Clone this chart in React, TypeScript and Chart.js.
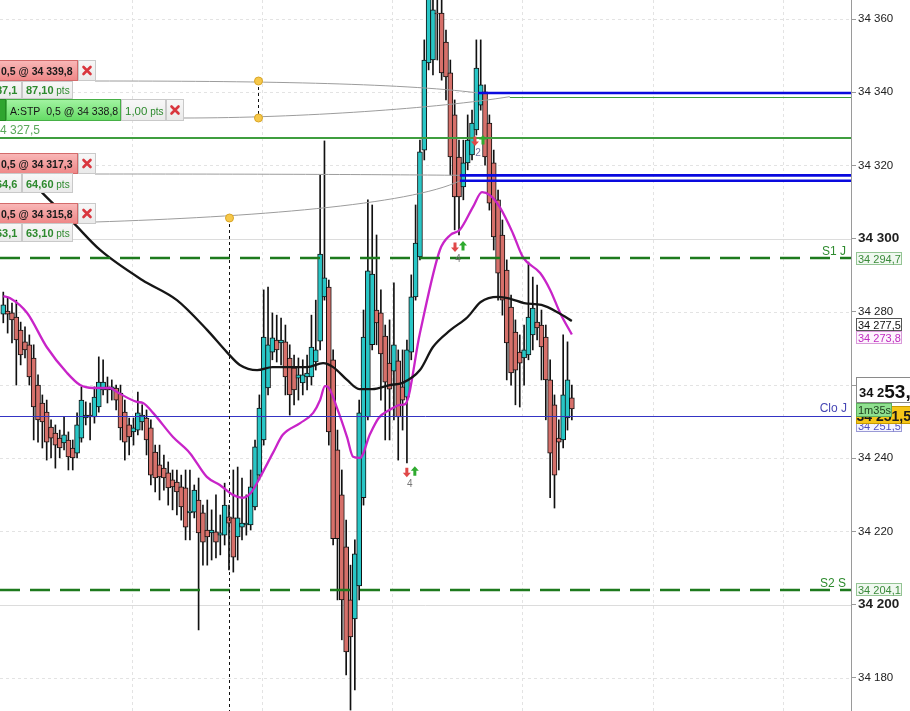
import React, { useEffect, useRef } from "react";
import { Chart, registerables } from "chart.js";

Chart.register(...registerables);

const FONT = '"Liberation Sans", Arial, Helvetica, sans-serif';

// ---- candle data (index 0..131) ----
const candleOpen = [
  34279.4, 34280.2, 34279.7, 34278.6, 34275.0, 34271.8, 34271.0, 34267.4, 34260.0, 34255.1,
  34252.6, 34248.5, 34246.9, 34245.5, 34244.2, 34245.0, 34242.8, 34241.4, 34245.5, 34251.0,
  34251.8, 34251.3, 34254.0, 34258.7, 34259.5, 34258.7, 34259.2, 34257.8, 34252.6, 34249.1,
  34247.2, 34247.7, 34249.9, 34251.0, 34248.3, 34241.7, 34238.2, 34237.3, 34236.0, 34234.1,
  34233.5, 34232.2, 34231.9, 34225.1, 34225.3, 34228.6, 34225.1, 34220.4, 34219.6, 34219.9,
  34219.0, 34219.0, 34224.0, 34223.7, 34218.5, 34221.2, 34221.8, 34221.8, 34226.7, 34235.4,
  34245.0, 34259.2, 34269.0, 34272.3, 34271.5, 34271.8, 34267.4, 34264.7, 34261.9, 34260.6,
  34262.2, 34262.2, 34266.3, 34272.0, 34284.1, 34286.8, 34266.9, 34242.3, 34230.0, 34215.8,
  34201.3, 34196.1, 34205.1, 34229.2, 34251.3, 34271.0, 34280.5, 34279.7, 34273.4, 34266.0,
  34263.8, 34266.6, 34259.5, 34256.7, 34269.0, 34284.1, 34295.0, 34324.2, 34348.0, 34348.8,
  34361.6, 34361.6, 34353.7, 34345.3, 34333.8, 34322.3, 34314.1, 34320.7, 34322.9, 34329.7,
  34336.5, 34340.1, 34331.6, 34320.7, 34310.6, 34301.0, 34291.4, 34281.3, 34274.5, 34269.0,
  34267.4, 34268.2, 34273.7, 34277.2, 34276.4, 34273.1, 34261.4, 34254.6, 34245.5, 34245.0,
  34251.0, 34256.5,
];
const candleClose = [
  34281.9, 34279.4, 34277.8, 34272.3, 34268.2, 34269.6, 34262.2, 34254.0, 34250.5, 34249.9,
  34244.4, 34245.5, 34243.6, 34242.8, 34246.4, 34240.4, 34240.1, 34249.1, 34255.9, 34251.8,
  34251.3, 34256.7, 34260.8, 34260.8, 34258.7, 34259.5, 34255.9, 34248.3, 34244.4, 34245.8,
  34248.3, 34252.4, 34251.8, 34245.0, 34235.4, 34234.6, 34234.9, 34234.6, 34231.9, 34232.2,
  34230.8, 34226.7, 34221.2, 34225.6, 34231.3, 34219.6, 34217.1, 34218.5, 34220.4, 34217.1,
  34219.6, 34227.2, 34222.3, 34213.0, 34223.7, 34222.3, 34222.3, 34232.2, 34243.1, 34253.7,
  34273.1, 34271.0, 34272.9, 34269.6, 34272.3, 34262.2, 34257.3, 34258.7, 34262.8, 34262.8,
  34263.3, 34270.4, 34269.6, 34295.8, 34289.3, 34247.2, 34218.0, 34218.0, 34201.3, 34187.1,
  34191.2, 34213.9, 34252.4, 34273.1, 34291.2, 34290.3, 34277.0, 34268.5, 34260.8, 34258.9,
  34271.0, 34251.3, 34255.9, 34269.6, 34284.1, 34298.8, 34323.7, 34348.8, 34366.6, 34362.5,
  34361.4, 34345.3, 34344.2, 34322.3, 34311.4, 34311.4, 34320.7, 34326.9, 34331.6, 34346.6,
  34342.0, 34322.3, 34309.7, 34300.5, 34290.6, 34283.2, 34271.5, 34263.3, 34264.1, 34266.0,
  34269.6, 34278.6, 34281.0, 34275.6, 34270.4, 34261.4, 34241.4, 34235.4, 34244.4, 34257.3,
  34261.4, 34253.5,
];
const candleHigh = [
  34285.4, 34283.8, 34282.4, 34283.2, 34277.2, 34275.9, 34273.7, 34271.0, 34262.8, 34257.3,
  34255.9, 34250.5, 34249.1, 34247.7, 34251.3, 34247.2, 34245.0, 34252.4, 34259.5, 34255.4,
  34255.1, 34259.5, 34267.7, 34266.9, 34262.2, 34261.4, 34260.0, 34260.0, 34255.9, 34251.0,
  34251.0, 34258.1, 34254.6, 34253.2, 34250.5, 34243.6, 34243.6, 34240.9, 34239.0, 34236.8,
  34236.8, 34235.4, 34236.8, 34236.8, 34232.7, 34234.6, 34227.2, 34228.6, 34225.9, 34230.0,
  34224.5, 34233.2, 34227.2, 34236.8, 34237.6, 34234.6, 34230.0, 34236.8, 34245.0, 34257.3,
  34286.0, 34286.8, 34279.7, 34279.1, 34278.3, 34276.4, 34271.0, 34268.2, 34267.4, 34266.9,
  34268.2, 34279.1, 34283.2, 34317.4, 34326.7, 34288.7, 34269.6, 34247.7, 34236.8, 34223.1,
  34210.8, 34217.7, 34255.9, 34280.5, 34310.6, 34309.2, 34301.0, 34286.0, 34276.4, 34277.8,
  34287.9, 34269.6, 34269.6, 34272.3, 34290.1, 34309.2, 34326.9, 34354.3, 34369.3, 34367.9,
  34366.6, 34365.2, 34357.0, 34348.8, 34337.9, 34326.9, 34326.9, 34333.8, 34335.1, 34354.3,
  34354.3, 34342.0, 34333.8, 34324.2, 34313.3, 34305.1, 34294.2, 34284.6, 34277.8, 34273.7,
  34276.4, 34293.6, 34289.5, 34287.3, 34280.5, 34276.4, 34266.9, 34257.3, 34250.5, 34273.7,
  34271.8, 34260.0,
];
const candleLow = [
  34277.0, 34274.2, 34271.5, 34260.0, 34265.5, 34267.4, 34260.0, 34245.0, 34244.4, 34242.8,
  34239.5, 34240.1, 34237.3, 34240.1, 34242.3, 34236.8, 34236.8, 34240.1, 34244.4, 34249.1,
  34245.0, 34249.6, 34252.6, 34257.3, 34255.1, 34255.9, 34253.2, 34245.0, 34239.5, 34240.9,
  34243.6, 34246.4, 34247.7, 34240.9, 34232.7, 34230.8, 34228.6, 34231.3, 34227.2, 34225.9,
  34224.5, 34223.1, 34217.7, 34217.7, 34223.7, 34193.1, 34210.8, 34210.8, 34212.2, 34212.8,
  34213.6, 34216.3, 34209.5, 34208.9, 34212.2, 34217.7, 34219.0, 34220.4, 34225.9, 34234.1,
  34243.6, 34257.3, 34266.9, 34266.3, 34265.5, 34257.3, 34251.8, 34254.6, 34255.9, 34257.3,
  34258.7, 34260.0, 34264.1, 34269.6, 34283.2, 34243.6, 34216.3, 34201.3, 34190.4, 34180.8,
  34171.2, 34176.7, 34201.3, 34227.2, 34250.5, 34269.6, 34271.0, 34255.9, 34245.0, 34245.0,
  34250.5, 34239.5, 34247.7, 34238.7, 34266.9, 34283.2, 34294.2, 34321.5, 34346.1, 34344.7,
  34348.8, 34343.3, 34337.9, 34317.4, 34302.4, 34301.0, 34310.6, 34318.8, 34321.5, 34328.3,
  34335.1, 34320.1, 34307.8, 34296.9, 34283.2, 34279.1, 34261.4, 34260.0, 34254.6, 34254.0,
  34260.0, 34266.9, 34269.6, 34272.3, 34261.4, 34250.5, 34229.2, 34226.4, 34236.8, 34242.8,
  34247.7, 34250.5,
];

// ---- moving averages (read at candle index positions) ----
const smaLongIdx = [3, 9, 16, 22.3, 32, 40, 47, 51.5, 54.5, 58.5, 62, 70, 73.7, 76, 79.2, 82, 85, 89, 92, 96, 99, 103, 107, 110, 114, 117, 120, 124, 128, 131];
const smaLongVal = [34320.7, 34312.5, 34304.5, 34296.9, 34288.7, 34283.2, 34275.0, 34269.0, 34265.5, 34264.1, 34264.9, 34264.9, 34266.0, 34264.9, 34261.4, 34258.9, 34258.9, 34260.0, 34260.6, 34264.1, 34270.4, 34275.0, 34278.6, 34282.7, 34284.1, 34283.5, 34282.4, 34281.9, 34279.7, 34277.5];
const smaShortIdx = [0, 1.5, 5.5, 10, 14.7, 17.7, 20.7, 24.6, 26.2, 30.8, 32.2, 34.5, 39.1, 43, 46.9, 49.9, 52.9, 55.2, 57, 59.2, 62.1, 64.4, 68.4, 71.4, 73, 74.1, 74.8, 76.9, 79.2, 80.6, 82.2, 84.5, 86.5, 89, 91.5, 92.6, 96, 100.6, 103, 105.2, 108.2, 110.3, 112.1, 114.4, 117.4, 119.7, 123.7, 126, 128.3, 131];
const smaShortVal = [34284.3, 34283.8, 34279.7, 34270.4, 34263.3, 34260.0, 34259.2, 34259.2, 34258.1, 34255.4, 34255.1, 34252.4, 34245.8, 34241.4, 34234.9, 34232.7, 34230.0, 34229.2, 34230.5, 34234.9, 34241.4, 34246.4, 34249.6, 34252.4, 34255.9, 34259.7, 34259.5, 34253.7, 34245.8, 34240.4, 34240.1, 34246.6, 34251.0, 34253.2, 34254.6, 34254.8, 34274.2, 34296.9, 34301.0, 34302.4, 34308.6, 34312.7, 34311.9, 34308.6, 34301.5, 34295.0, 34290.6, 34286.0, 34279.7, 34273.8];

// ---- levels and annotations ----
const orderPrices = [34339.8, 34317.3, 34315.8];
const orderFromIdx = [109.4, 105.2, 105.2];
const stopPrice = 34338.8;
const stopFromIdx = 116.7;
const targetPrice = 34327.5;
const pivotPrices = [34294.7, 34204.1];
const pivotNames = ["S1 J", "S2 S"];
const prevClosePrice = 34251.5;
const lastPrice = 34253.5;
const smaLongLast = 34277.5;
const smaShortLast = 34273.8;
const tradeIdx = [105.0, 93.9, 109.6];
const tradePrice = [34297.7, 34236.2, 34326.7];
const tradeCount = ["4", "4", "2"];
const vGridIdx = [29.6, 59.6, 89.6, 119.6, 149.6, 179.6];
const Y_MIN = 34170.95;
const Y_MAX = 34365.2;
const X_MIN = -0.76;
const X_MAX = 195.32;

const TEAL = "#28c6c6";
const RED = "#d6706a";

function fmtPrice(v: number, dec = 1): string {
  const s = Number(v).toFixed(dec);
  const parts = s.split(".");
  const intPart = parts[0].replace(/\B(?=(\d{3})+(?!\d))/g, " ");
  return parts[1] ? intPart + "," + parts[1] : intPart;
}

function box(ctx: CanvasRenderingContext2D, x: number, y: number, w: number, h: number, fill: any, stroke: string) {
  ctx.fillStyle = fill;
  ctx.fillRect(x, y, w, h);
  ctx.strokeStyle = stroke;
  ctx.lineWidth = 1;
  ctx.setLineDash([]);
  ctx.strokeRect(x + 0.5, y + 0.5, w - 1, h - 1);
}

function grad(ctx: CanvasRenderingContext2D, y: number, h: number, c1: string, c2: string) {
  const g = ctx.createLinearGradient(0, y, 0, y + h);
  g.addColorStop(0, c1);
  g.addColorStop(1, c2);
  return g;
}

function xMark(ctx: CanvasRenderingContext2D, cx: number, cy: number) {
  ctx.save();
  ctx.strokeStyle = "#d9363e";
  ctx.lineWidth = 2.6;
  ctx.lineCap = "round";
  ctx.beginPath();
  ctx.moveTo(cx - 3.5, cy - 3.5);
  ctx.lineTo(cx + 3.5, cy + 3.5);
  ctx.moveTo(cx + 3.5, cy - 3.5);
  ctx.lineTo(cx - 3.5, cy + 3.5);
  ctx.stroke();
  ctx.restore();
}

function arrow(ctx: CanvasRenderingContext2D, cx: number, cy: number, up: boolean, color: string) {
  const s = up ? -1 : 1;
  ctx.fillStyle = color;
  ctx.beginPath();
  ctx.moveTo(cx, cy + s * 5);
  ctx.lineTo(cx - 4, cy + s * 0.5);
  ctx.lineTo(cx - 1.5, cy + s * 0.5);
  ctx.lineTo(cx - 1.5, cy - s * 4.5);
  ctx.lineTo(cx + 1.5, cy - s * 4.5);
  ctx.lineTo(cx + 1.5, cy + s * 0.5);
  ctx.lineTo(cx + 4, cy + s * 0.5);
  ctx.closePath();
  ctx.fill();
}

function goldDot(ctx: CanvasRenderingContext2D, x: number, y: number) {
  ctx.beginPath();
  ctx.arc(x, y, 4, 0, Math.PI * 2);
  ctx.fillStyle = "#f6c84a";
  ctx.fill();
  ctx.strokeStyle = "#d9a526";
  ctx.lineWidth = 1;
  ctx.stroke();
}

function hLine(ctx: CanvasRenderingContext2D, x1: number, x2: number, y: number, color: string, w: number, dash: number[] = []) {
  ctx.strokeStyle = color;
  ctx.lineWidth = w;
  ctx.setLineDash(dash);
  ctx.beginPath();
  ctx.moveTo(x1, y);
  ctx.lineTo(x2, y);
  ctx.stroke();
  ctx.setLineDash([]);
}

const overlayPlugin = {
  id: "overlay",
  beforeDatasetsDraw(chart: any) {
    const { ctx, chartArea: a, scales } = chart;
    const ys = scales.y;
    const xs = scales.x;
    ctx.save();
    ctx.lineWidth = 1;
    for (const t of ys.ticks) {
      const y = Math.round(ys.getPixelForValue(t.value)) + 0.5;
      const major = Math.round(t.value) % 100 === 0;
      ctx.setLineDash(major ? [] : [3, 3]);
      ctx.strokeStyle = major ? "#dcdcdc" : "#e3e3e3";
      ctx.beginPath();
      ctx.moveTo(a.left, y);
      ctx.lineTo(a.right, y);
      ctx.stroke();
    }
    ctx.setLineDash([3, 3]);
    ctx.strokeStyle = "#e3e3e3";
    for (const i of vGridIdx) {
      const x = Math.round(xs.getPixelForValue(i)) + 0.5;
      ctx.beginPath();
      ctx.moveTo(x, a.top);
      ctx.lineTo(x, a.bottom);
      ctx.stroke();
    }
    ctx.restore();
  },
  afterDatasetsDraw(chart: any) {
    const { ctx, chartArea: a, scales } = chart;
    const ys = scales.y;
    const xs = scales.x;
    const Y = (v: number) => ys.getPixelForValue(v);
    const X = (i: number) => xs.getPixelForValue(i);
    ctx.save();
    ctx.beginPath();
    ctx.rect(a.left, a.top, a.width, a.height);
    ctx.clip();

    // previous close line
    hLine(ctx, a.left, a.right, Math.round(Y(prevClosePrice)) + 0.5, "#3434c4", 1);
    // target line
    hLine(ctx, a.left, a.right, Math.round(Y(targetPrice)), "#3f9e3f", 2);
    // pivots
    pivotPrices.forEach((p) => {
      hLine(ctx, a.left, a.right, Math.round(Y(p)), "#1d7a1d", 2.6, [20, 10]);
    });
    // gray order curves
    ctx.strokeStyle = "#9c9c9c";
    ctx.lineWidth = 1;
    const e1x = X(orderFromIdx[0]), e1y = Y(orderPrices[0]);
    ctx.beginPath(); ctx.moveTo(95, 81); ctx.bezierCurveTo(250, 81, 400, 83, e1x, e1y); ctx.stroke();
    const e2x = X(stopFromIdx), e2y = Y(stopPrice);
    ctx.beginPath(); ctx.moveTo(184, 118); ctx.bezierCurveTo(300, 118, 440, 108, e2x, e2y); ctx.stroke();
    const e3x = X(orderFromIdx[1]), e3y = Y(orderPrices[1]);
    ctx.beginPath(); ctx.moveTo(95, 174); ctx.bezierCurveTo(250, 174, 380, 174.5, e3x, e3y); ctx.stroke();
    const e4x = X(orderFromIdx[2]), e4y = Y(orderPrices[2]);
    ctx.beginPath(); ctx.moveTo(95, 222); ctx.bezierCurveTo(250, 217, 410, 205, e4x, e4y); ctx.stroke();

    // stop line (thin green)
    hLine(ctx, X(stopFromIdx), a.right, Math.round(Y(stopPrice)) + 0.5, "#3a9a3a", 1.2);
    // blue order lines
    orderPrices.forEach((p, k) => {
      hLine(ctx, X(orderFromIdx[k]), a.right, Y(p), "#0a0ade", 2.6);
    });

    // dashed verticals and gold dots
    ctx.strokeStyle = "#111";
    ctx.lineWidth = 1;
    ctx.setLineDash([3, 3]);
    ctx.beginPath(); ctx.moveTo(258.5, 81); ctx.lineTo(258.5, 118); ctx.stroke();
    ctx.beginPath(); ctx.moveTo(229.5, 218); ctx.lineTo(229.5, a.bottom); ctx.stroke();
    ctx.setLineDash([]);
    goldDot(ctx, 258.5, 81);
    goldDot(ctx, 258.5, 118);
    goldDot(ctx, 229.5, 218);

    // trade markers
    tradeIdx.forEach((ti, k) => {
      const cx = X(ti), cy = Y(tradePrice[k]);
      arrow(ctx, cx - 4, cy, false, "#e04848");
      arrow(ctx, cx + 4, cy - 1, true, "#2faa2f");
      ctx.fillStyle = k === 2 ? "#7070a0" : "#777";
      ctx.font = "10px " + FONT;
      ctx.textAlign = "center";
      ctx.fillText(tradeCount[k], cx - 1, cy + 15);
    });
    ctx.textAlign = "left";

    // pivot names and close label
    ctx.font = "12px " + FONT;
    ctx.textAlign = "right";
    ctx.fillStyle = "#2e8b2e";
    pivotPrices.forEach((p, k) => ctx.fillText(pivotNames[k], a.right - 5, Y(p) - 3));
    ctx.fillStyle = "#4646b4";
    ctx.fillText("Clo J", a.right - 4, Y(prevClosePrice) - 4);
    ctx.textAlign = "left";

    // ---- order tickets (left) ----
    const red = (y: number, h: number) => grad(ctx, y, h, "#f9b9b9", "#ee8585");
    const lite = (y: number, h: number) => grad(ctx, y, h, "#f8f8f8", "#e9e9e9");
    const ticket = (y: number, txt: string) => {
      box(ctx, -2, y, 80, 21, red(y, 21), "#d36b6b");
      ctx.fillStyle = "#1a1a1a";
      ctx.font = "bold 10.5px " + FONT;
      ctx.fillText(txt, 1, y + 15);
      box(ctx, 78, y, 18, 21, lite(y, 21), "#c9c9c9");
      xMark(ctx, 87, y + 10.5);
    };
    const pts = (y: number, h: number, a1: string, a2: string) => {
      box(ctx, -2, y, 24, h, lite(y, h), "#c9c9c9");
      box(ctx, 22, y, 51, h, lite(y, h), "#c9c9c9");
      ctx.fillStyle = "#2e8a2e";
      ctx.font = "bold 11px " + FONT;
      ctx.fillText(a1, -4, y + h - 5);
      ctx.fillText(a2, 26, y + h - 5);
      const w = ctx.measureText(a2).width;
      ctx.font = "10px " + FONT;
      ctx.fillText(" pts", 26 + w, y + h - 5);
    };
    ticket(60, "0,5 @ 34 339,8");
    pts(81, 18, "87,1", "87,10");
    // green stop ticket
    box(ctx, -2, 99, 8, 22, "#2fa52f", "#238a23");
    box(ctx, 6, 99, 115, 22, grad(ctx, 99, 22, "#a4f4a4", "#62db62"), "#46b046");
    ctx.fillStyle = "#151515";
    ctx.font = "10.5px " + FONT;
    ctx.fillText("A:STP  0,5 @ 34 338,8", 10, 115);
    box(ctx, 121, 99, 45, 22, lite(99, 22), "#c9c9c9");
    ctx.fillStyle = "#2e8a2e";
    ctx.font = "11.5px " + FONT;
    ctx.fillText("1,00", 125, 115);
    const w100 = ctx.measureText("1,00").width;
    ctx.font = "10px " + FONT;
    ctx.fillText(" pts", 125 + w100, 115);
    box(ctx, 166, 99, 18, 22, lite(99, 22), "#c9c9c9");
    xMark(ctx, 175, 110);
    ctx.fillStyle = "#5aa85a";
    ctx.font = "12px " + FONT;
    ctx.fillText("4 327,5", 0, 134);
    ticket(153, "0,5 @ 34 317,3");
    pts(173, 20, "64,6", "64,60");
    ticket(203, "0,5 @ 34 315,8");
    pts(223, 19, "63,1", "63,10");

    ctx.restore();
  },
  afterDraw(chart: any) {
    const { ctx, chartArea: a, scales } = chart;
    const ys = scales.y;
    const Y = (v: number) => ys.getPixelForValue(v);
    const x0 = a.right + 5;
    ctx.save();
    const tag = (yc: number, text: string, color: string, fill: string, stroke: string) => {
      const y0 = Math.round(yc - 6.5);
      box(ctx, x0, y0, 46, 13, fill, stroke);
      ctx.fillStyle = color;
      ctx.font = "11px " + FONT;
      ctx.fillText(text, x0 + 2, y0 + 10.5);
    };
    pivotPrices.forEach((p) => tag(Y(p), fmtPrice(p), "#3a8a3a", "#f0f8f0", "#94c494"));
    tag(Y(smaLongLast) + 3.5, fmtPrice(smaLongLast), "#111", "#ffffff", "#555");
    tag(Y(smaShortLast) + 3, fmtPrice(smaShortLast), "#c02cc0", "#fdf4fd", "#d99ad9");

    // previous close tag (blue), behind
    const yc = Y(prevClosePrice);
    box(ctx, x0, Math.round(yc + 3), 46, 13, "#f4f4ff", "#9a9ad6");
    ctx.fillStyle = "#5050c0";
    ctx.font = "11px " + FONT;
    ctx.fillText(fmtPrice(prevClosePrice), x0 + 2, Math.round(yc + 3) + 10.5);
    // yellow tag
    const yl = Math.round(yc - 10);
    box(ctx, x0, yl, 60, 18, "#f5c518", "#c79a00");
    ctx.fillStyle = "#1a1a1a";
    ctx.font = "bold 14px " + FONT;
    ctx.textAlign = "right";
    ctx.fillText(fmtPrice(prevClosePrice), 911, yl + 15);
    ctx.textAlign = "left";
    // current price big box
    const yp = Y(lastPrice);
    const by = Math.round(yp - 32);
    box(ctx, x0, by, 60, 26, "#ffffff", "#8a8a8a");
    ctx.fillStyle = "#111";
    ctx.font = "bold 13px " + FONT;
    const lp = fmtPrice(lastPrice);
    const head = lp.slice(0, 4);
    ctx.fillText(head, x0 + 3, by + 20);
    const hw = ctx.measureText(head).width;
    ctx.font = "bold 19px " + FONT;
    ctx.fillText(lp.slice(4), x0 + 3 + hw, by + 21);
    // timer tag
    const ty = by + 26;
    box(ctx, x0, ty, 36, 14, "#8fe08f", "#5cb05c");
    ctx.fillStyle = "#1d3d1d";
    ctx.font = "11px " + FONT;
    ctx.fillText("1m35s", x0 + 2, ty + 11);
    ctx.restore();
  },
};

export default function App() {
  const ref = useRef<HTMLCanvasElement | null>(null);
  useEffect(() => {
    if (!ref.current) return;
    const bodyData = candleOpen.map((o, i) => ({ x: i, y: [o, candleClose[i]] }));
    const wickData = candleHigh.map((h, i) => ({ x: i, y: [candleLow[i], h] }));
    const bodyColors = candleOpen.map((o, i) => (candleClose[i] >= o ? TEAL : RED));
    const chart = new Chart(ref.current, {
      type: "bar",
      data: {
        datasets: [
          {
            type: "line",
            data: smaLongIdx.map((x, k) => ({ x, y: smaLongVal[k] })),
            borderColor: "#161616",
            borderWidth: 2.3,
            pointRadius: 0,
            cubicInterpolationMode: "monotone",
            order: 0,
          } as any,
          {
            type: "line",
            data: smaShortIdx.map((x, k) => ({ x, y: smaShortVal[k] })),
            borderColor: "#c824c8",
            borderWidth: 2.3,
            pointRadius: 0,
            cubicInterpolationMode: "monotone",
            order: 0,
          } as any,
          {
            type: "bar",
            data: bodyData as any,
            backgroundColor: bodyColors,
            borderColor: "#111111",
            borderWidth: 1,
            borderSkipped: false,
            barThickness: 5,
            grouped: false,
            order: 1,
          } as any,
          {
            type: "bar",
            data: wickData as any,
            backgroundColor: "#111111",
            borderWidth: 0,
            barThickness: 1,
            grouped: false,
            order: 2,
          } as any,
        ],
      },
      options: {
        animation: false,
        responsive: false,
        devicePixelRatio: 1,
        events: [],
        layout: { padding: 0 },
        plugins: { legend: { display: false }, tooltip: { enabled: false } },
        scales: {
          x: { type: "linear", min: X_MIN, max: X_MAX, display: false, offset: false },
          y: {
            type: "linear",
            position: "right",
            min: Y_MIN,
            max: Y_MAX,
            afterFit: (s: any) => {
              s.width = 59;
              s.paddingTop = 0;
              s.paddingBottom = 0;
            },
            grid: { drawOnChartArea: false, drawTicks: true, tickLength: 5, color: "#9a9a9a" },
            border: { display: true, color: "#9a9a9a" },
            ticks: {
              stepSize: 20,
              includeBounds: false,
              autoSkip: false,
              padding: 2,
              color: "#222",
              callback: (v: any) => fmtPrice(Number(v), 0),
              font: (c: any) =>
                c.tick && Math.round(c.tick.value) % 100 === 0
                  ? { family: FONT, size: 13.5, weight: "bold" }
                  : { family: FONT, size: 11.5 },
            },
          } as any,
        },
      } as any,
      plugins: [overlayPlugin as any],
    });
    return () => chart.destroy();
  }, []);
  return (
    <div style={{ position: "fixed", left: 0, top: 0, width: 910, height: 711, background: "#fff" }}>
      <canvas ref={ref} width={910} height={711} style={{ display: "block" }} />
    </div>
  );
}
